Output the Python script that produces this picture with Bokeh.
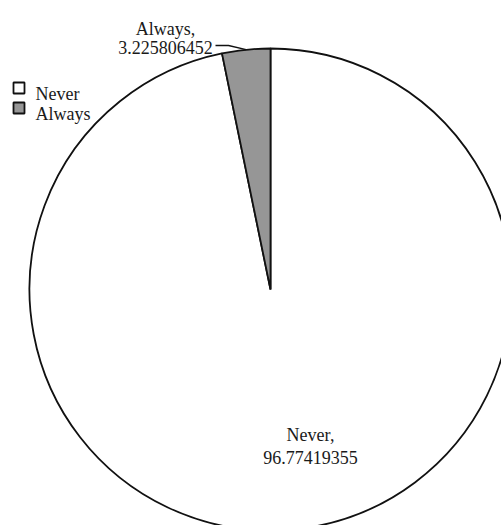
import numpy as np
from bokeh.plotting import figure
from bokeh.models import Range1d, ColumnDataSource
from bokeh.core.properties import value
from bokeh.embed import file_html
from bokeh.resources import INLINE

# ---- data ----
categories = ["Never", "Always"]
values = [96.77419355, 3.225806452]
colors = ["#ffffff", "#969696"]
value_labels = ["96.77419355", "3.225806452"]

# ---- layout constants (pixels, y measured up from bottom) ----
W, H = 501, 525
CX, CY, R = 270, 236, 241
FONT = "Liberation Serif"
FS = "18px"
TXT = "#1a1a1a"

p = figure(width=W, height=H, output_backend="svg", toolbar_location=None,
           x_axis_type=None, y_axis_type=None, min_border=0,
           x_range=Range1d(0, W), y_range=Range1d(0, H))
p.outline_line_color = None
p.grid.visible = False
p.background_fill_color = "white"
p.border_fill_color = "white"

vals = np.array(values, dtype=float)
frac = vals / vals.sum()
ang = frac * 2 * np.pi
start_always = np.pi / 2
end_always = start_always + ang[1]
start_never = end_always
end_never = start_never + ang[0]
starts = [start_never, start_always]
ends = [end_never, end_always]

src = ColumnDataSource(dict(cat=categories, start=starts, end=ends, color=colors))
p.wedge(x=CX, y=CY, radius=R, start_angle="start", end_angle="end",
        fill_color="color", line_color="#111111", line_width=1.8, source=src)

# Always label with leader line
mid_always = (start_always + end_always) / 2
ex = CX + R * np.cos(mid_always)
ey = CY + R * np.sin(mid_always)
p.line(x=[215, 228, ex], y=[480, 480, ey], line_color="#111111", line_width=1.3)
p.text(x=[165, 165], y=[497, 478], text=[categories[1] + ",", value_labels[1]],
       text_align="center", text_baseline="alphabetic",
       text_font=value(FONT), text_font_size=FS, text_color=TXT)
# Never label inside slice
p.text(x=[310, 310], y=[91, 68], text=[categories[0] + ",", value_labels[0]],
       text_align="center", text_baseline="alphabetic",
       text_font=value(FONT), text_font_size=FS, text_color=TXT)

# legend (manual)
p.scatter(x=[18.5, 18.5], y=[437.5, 417.5], marker="square", size=11,
          fill_color=colors, line_color="#111111", line_width=1.8)
p.text(x=[35, 35], y=[432, 412], text=categories, text_align="left",
       text_baseline="alphabetic", text_font=value(FONT), text_font_size=FS,
       text_color=TXT)

open("out.html", "w").write(file_html(p, INLINE))
